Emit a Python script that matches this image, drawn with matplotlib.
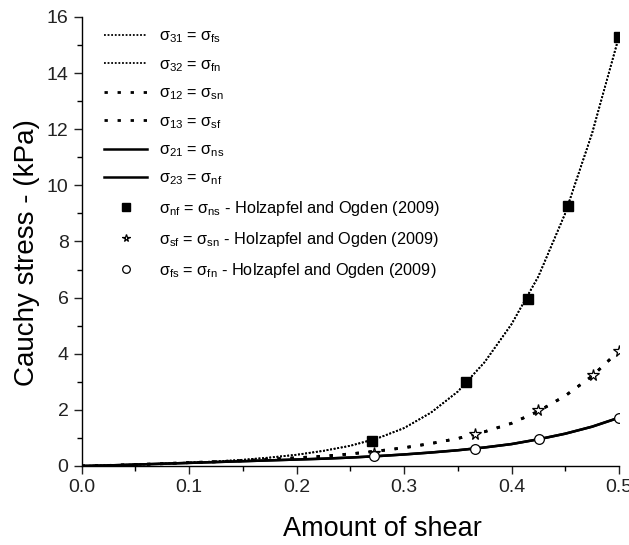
import numpy as np
import matplotlib
matplotlib.use("Agg")
import matplotlib.pyplot as plt
from matplotlib.ticker import MultipleLocator

plt.rcParams['font.family'] = ['Liberation Sans', 'DejaVu Sans']
plt.rcParams['mathtext.fontset'] = 'custom'
plt.rcParams['mathtext.rm'] = 'Liberation Sans'
plt.rcParams['mathtext.it'] = 'Liberation Sans'
plt.rcParams['mathtext.bf'] = 'Liberation Sans:bold'

# model curves
shear = [0.000, 0.025, 0.050, 0.075, 0.100, 0.125, 0.150, 0.175, 0.200, 0.225, 0.250,
         0.275, 0.300, 0.325, 0.350, 0.375, 0.400, 0.425, 0.450, 0.475, 0.500]
sig_fs = [0.00, 0.02, 0.05, 0.08, 0.12, 0.16, 0.22, 0.30, 0.40, 0.54, 0.72,
          0.98, 1.35, 1.90, 2.65, 3.70, 5.05, 6.75, 9.00, 11.85, 15.30]
sig_sf = [0.00, 0.02, 0.05, 0.08, 0.12, 0.15, 0.19, 0.24, 0.29, 0.35, 0.43,
          0.53, 0.65, 0.80, 0.98, 1.22, 1.52, 1.95, 2.50, 3.20, 4.10]
sig_nf = [0.00, 0.02, 0.05, 0.08, 0.11, 0.14, 0.17, 0.20, 0.23, 0.26, 0.30,
          0.35, 0.41, 0.48, 0.56, 0.66, 0.78, 0.95, 1.15, 1.40, 1.72]

# Holzapfel and Ogden (2009) data
ho_nf_x = [0.270, 0.358, 0.415, 0.453, 0.500]
ho_nf_y = [0.90, 3.00, 5.95, 9.28, 15.30]
ho_sf_x = [0.272, 0.366, 0.425, 0.476, 0.500]
ho_sf_y = [0.45, 1.15, 2.00, 3.25, 4.10]
ho_fs_x = [0.272, 0.366, 0.426, 0.500]
ho_fs_y = [0.35, 0.60, 0.97, 1.72]

fig = plt.figure(figsize=(6.29, 5.45), dpi=100)
ax = fig.add_axes([0.130, 0.145, 0.854, 0.824])

fine = (0, (1, 1))
loose = (0, (1.2, 3.5))
ax.plot(shear, sig_fs, color='black', lw=1.3, ls=fine, label=r'$\sigma_{31}$ = $\sigma_{fs}$')
ax.plot(shear, sig_fs, color='black', lw=1.3, ls=fine, label=r'$\sigma_{32}$ = $\sigma_{fn}$')
ax.plot(shear, sig_sf, color='black', lw=2.0, ls=loose, label=r'$\sigma_{12}$ = $\sigma_{sn}$')
ax.plot(shear, sig_sf, color='black', lw=2.0, ls=loose, label=r'$\sigma_{13}$ = $\sigma_{sf}$')
ax.plot(shear, sig_nf, color='black', lw=1.8, ls='-', label=r'$\sigma_{21}$ = $\sigma_{ns}$')
ax.plot(shear, sig_nf, color='black', lw=1.8, ls='-', label=r'$\sigma_{23}$ = $\sigma_{nf}$')

ax.plot(ho_nf_x, ho_nf_y, ls='none', marker='s', ms=7, color='black',
        label=r'$\sigma_{nf}$ = $\sigma_{ns}$ - Holzapfel and Ogden (2009)', zorder=5)
ax.plot(ho_sf_x, ho_sf_y, ls='none', marker='*', ms=8.5, mfc='white', mec='black', mew=0.9,
        label=r'$\sigma_{sf}$ = $\sigma_{sn}$ - Holzapfel and Ogden (2009)', zorder=5)
ax.plot(ho_fs_x, ho_fs_y, ls='none', marker='o', ms=7, mfc='white', mec='black', mew=0.9,
        label=r'$\sigma_{fs}$ = $\sigma_{fn}$ - Holzapfel and Ogden (2009)', zorder=5)

ax.set_xlim(0, 0.5)
ax.set_ylim(0, 16)
ax.xaxis.set_major_locator(MultipleLocator(0.1))
ax.xaxis.set_minor_locator(MultipleLocator(0.05))
ax.yaxis.set_major_locator(MultipleLocator(2))
ax.yaxis.set_minor_locator(MultipleLocator(1))
ax.xaxis.set_major_formatter(matplotlib.ticker.FormatStrFormatter('%.1f'))
ax.spines['top'].set_visible(False)
ax.spines['right'].set_visible(False)
ax.tick_params(which='major', direction='out', length=6, width=1, labelsize=14, colors='#222222')
ax.tick_params(which='minor', direction='out', length=3.5, width=1)
for s in ['left', 'bottom']:
    ax.spines[s].set_linewidth(1)

ax.set_xlabel('Amount of shear', fontsize=19.5)
ax.set_ylabel('Cauchy stress - (kPa)', fontsize=20)
ax.xaxis.set_label_coords(0.56, -0.112)
ax.yaxis.set_label_coords(-0.078, 0.475)

leg = ax.legend(loc='upper left', bbox_to_anchor=(0.03, 0.988), frameon=False, fontsize=11.7,
                handlelength=2.6, handletextpad=0.75, labelspacing=0.72, borderaxespad=0)
for h in leg.legend_handles[6:]:
    h.set_markersize(5.5)

fig.savefig('out.png', dpi=100)
